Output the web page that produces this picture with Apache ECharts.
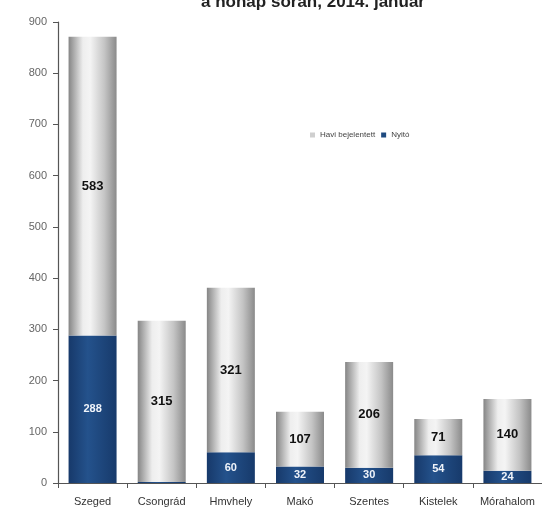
<!DOCTYPE html>
<html><head><meta charset="utf-8">
<script src="https://cdn.jsdelivr.net/npm/echarts@6/dist/echarts.min.js"></script>
<style>html,body{margin:0;padding:0;background:#fff}#c{width:542px;height:513px}</style>
</head><body><div id="c"></div>
<script>
const categories = ['Szeged','Csongrád','Hmvhely','Makó','Szentes','Kistelek','Mórahalom'];
const nyito = [288, 2, 60, 32, 30, 54, 24];
const havi = [583, 315, 321, 107, 206, 71, 140];
const yTicks = [0,100,200,300,400,500,600,700,800,900];

const grayGrad = {type:'linear',x:0,y:0,x2:1,y2:0,colorStops:[
  {offset:0,color:'#858585'},{offset:0.3,color:'#eeeeee'},{offset:0.45,color:'#f4f4f4'},{offset:0.75,color:'#c4c4c4'},{offset:1,color:'#8a8a8a'}]};
const blueGrad = {type:'linear',x:0,y:0,x2:1,y2:0,colorStops:[
  {offset:0,color:'#17396a'},{offset:0.4,color:'#24528c'},{offset:1,color:'#173a6b'}]};

const chart = echarts.init(document.getElementById('c'));
chart.setOption({
  animation:false,
  backgroundColor:'#fff',
  textStyle:{fontFamily:'Liberation Sans'},
  title:{text:'a hónap során, 2014. január',left:308,textAlign:'center',top:-11,
    textStyle:{fontSize:17,fontWeight:'bold',color:'#222',fontFamily:'Liberation Sans'}},
  legend:{data:[{name:'Havi bejelentett',itemStyle:{color:'#cfcfcf'}},{name:'Nyitó',itemStyle:{color:'#1f4a80'}}],
    left:305,top:126,itemWidth:5,itemHeight:5,itemGap:6,
    icon:'rect',textStyle:{fontSize:8,color:'#444',fontFamily:'Liberation Sans'}},
  grid:{left:58,right:-6,top:22,bottom:30,containLabel:false},
  xAxis:{type:'category',data:categories,
    axisLine:{lineStyle:{color:'#555',width:1.2}},
    axisTick:{show:true,interval:0,length:5,lineStyle:{color:'#555'}},
    axisLabel:{interval:0,fontSize:11,color:'#333',margin:13,fontFamily:'Liberation Sans'}},
  yAxis:{type:'value',min:yTicks[0],max:yTicks[yTicks.length-1],interval:100,
    axisLine:{show:true,lineStyle:{color:'#555',width:1.2}},
    axisTick:{show:true,length:5,lineStyle:{color:'#555'}},
    splitLine:{show:false},
    axisLabel:{fontSize:11,color:'#666',margin:11,fontFamily:'Liberation Sans'}},
  series:[
    {name:'Nyitó',type:'bar',stack:'a',data:nyito,barWidth:48,
      itemStyle:{color:blueGrad},
      label:{show:true,position:'inside',color:'#f0f4fa',fontSize:11,fontWeight:'bold',
        formatter:p=>p.value>=10?p.value:''}},
    {name:'Havi bejelentett',type:'bar',stack:'a',data:havi,barWidth:48,
      itemStyle:{color:grayGrad},
      label:{show:true,position:'inside',color:'#111',fontSize:13,fontWeight:'bold'}}
  ]
});
</script></body></html>
